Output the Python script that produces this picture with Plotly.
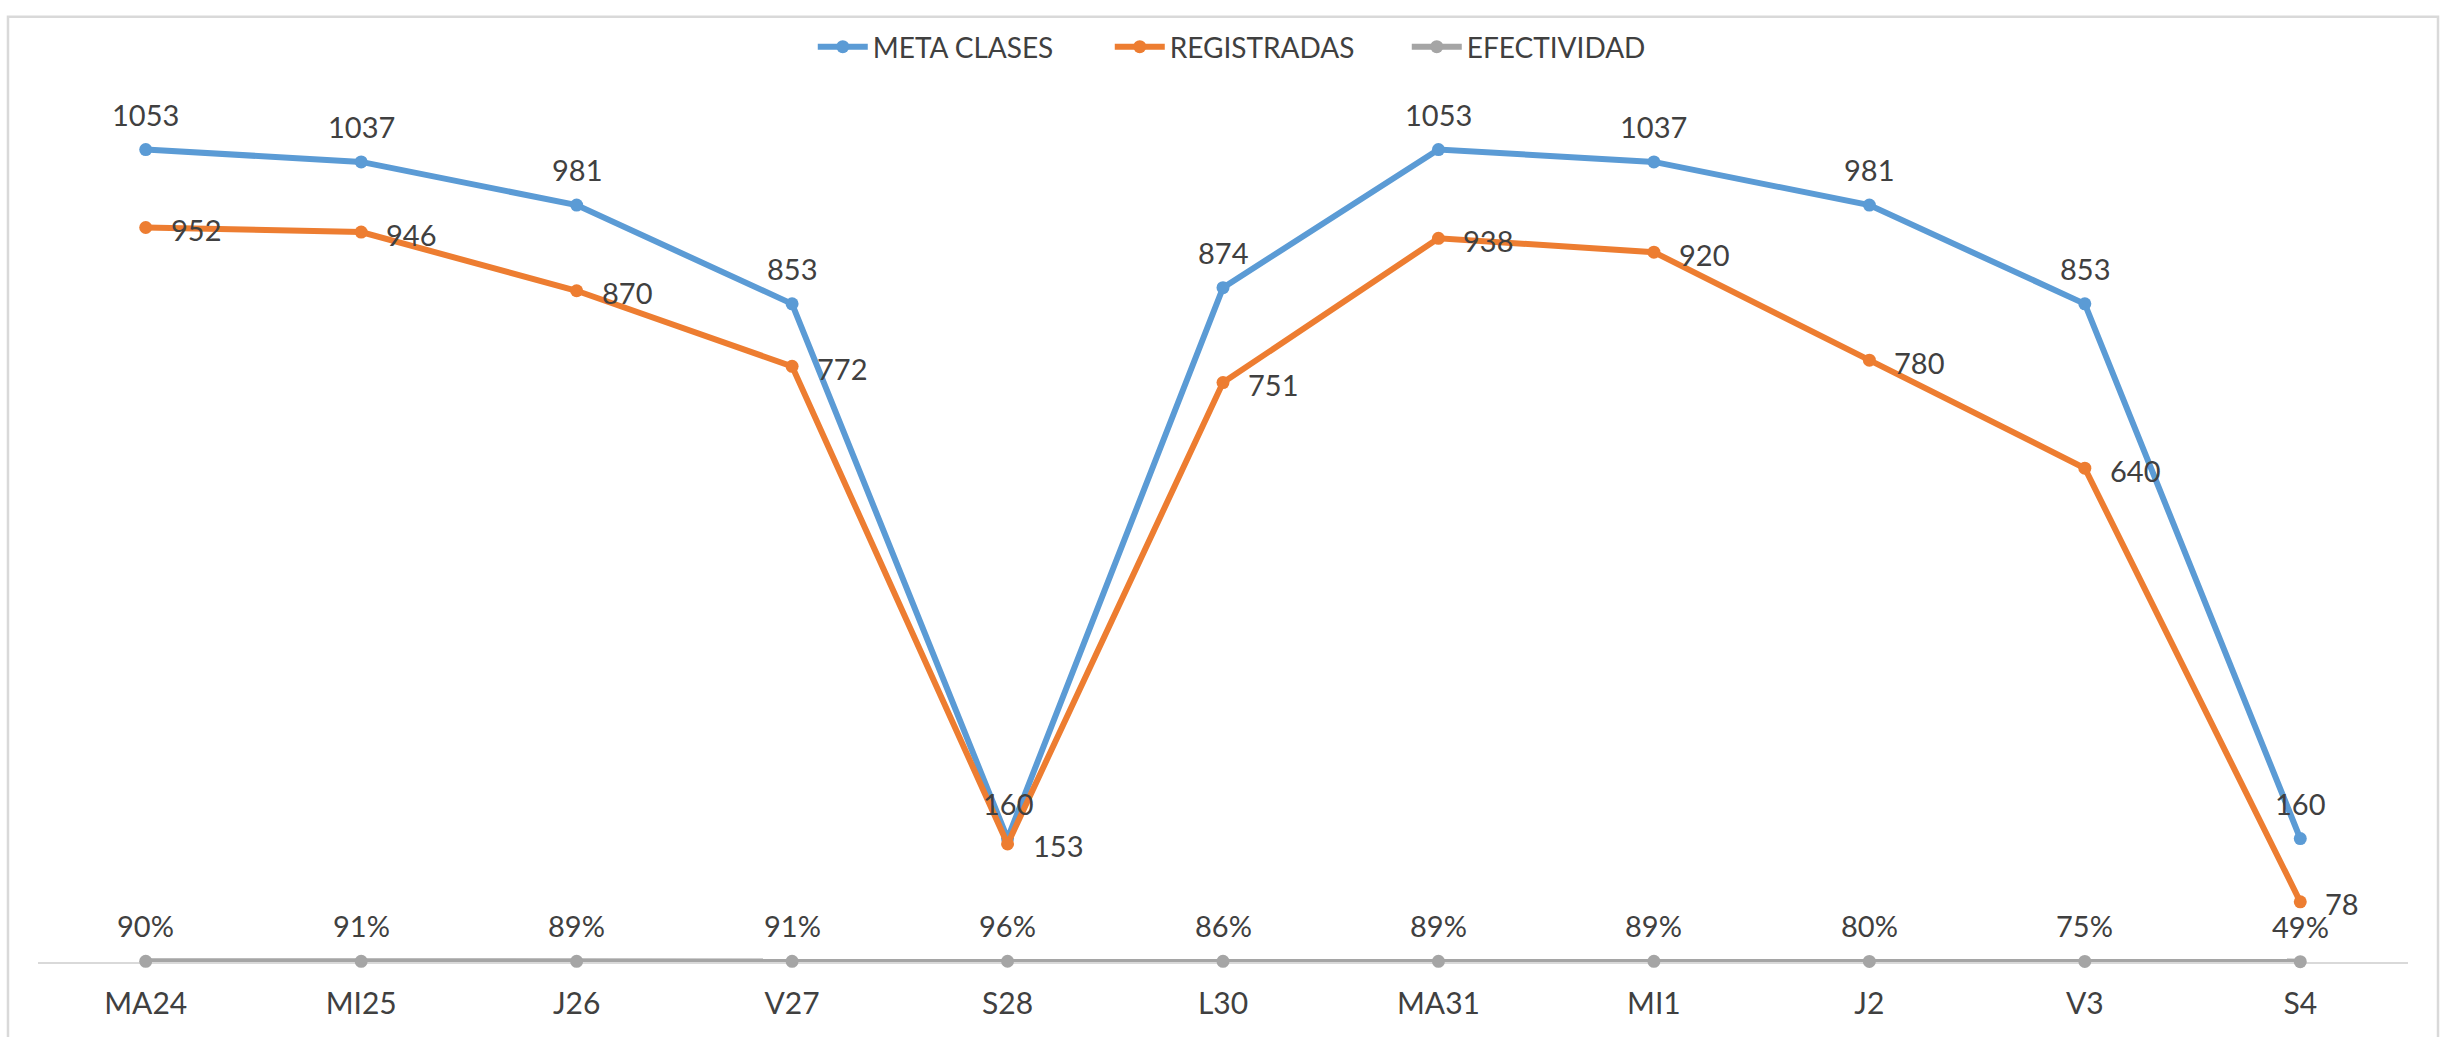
import plotly.graph_objects as go

dias = ['MA24', 'MI25', 'J26', 'V27', 'S28', 'L30', 'MA31', 'MI1', 'J2', 'V3', 'S4']
meta_clases = [1053, 1037, 981, 853, 160, 874, 1053, 1037, 981, 853, 160]
registradas = [952, 946, 870, 772, 153, 751, 938, 920, 780, 640, 78]
efectividad = [0.90, 0.91, 0.89, 0.91, 0.96, 0.86, 0.89, 0.89, 0.80, 0.75, 0.49]

FONT = 'Lato, Open Sans, sans-serif'
TXT = '#404040'
LBL = 29

series = [
    ('META CLASES', meta_clases, '#5B9BD5'),
    ('REGISTRADAS', registradas, '#ED7D31'),
    ('EFECTIVIDAD', efectividad, '#A5A5A5'),
]

fig = go.Figure()
for nombre, valores, color in series:
    fig.add_trace(go.Scatter(
        x=dias, y=valores, name=nombre,
        mode='lines+markers',
        line=dict(color=color, width=6),
        marker=dict(color=color, size=13),
        cliponaxis=False,
    ))

# etiquetas de datos
for d, v in zip(dias, meta_clases):
    fig.add_annotation(x=d, y=v, text=str(v), showarrow=False,
                       xanchor='center', yanchor='bottom', yshift=16,
                       font=dict(size=LBL, color=TXT, family=FONT))
for d, v in zip(dias, registradas):
    fig.add_annotation(x=d, y=v, text=str(v), showarrow=False,
                       xanchor='left', yanchor='middle', xshift=23, yshift=-2,
                       font=dict(size=LBL, color=TXT, family=FONT))
for d, v in zip(dias, efectividad):
    fig.add_annotation(x=d, y=v, text=f'{v:.0%}', showarrow=False,
                       xanchor='center', yanchor='bottom', yshift=16,
                       font=dict(size=LBL, color=TXT, family=FONT))

# marco exterior del grafico
fig.add_shape(type='rect', xref='paper', yref='paper',
              x0=-0.01266, x1=1.01266, y0=-0.09, y1=1.0765,
              line=dict(color='#D9D9D9', width=2.5), layer='below')

fig.update_layout(
    width=2448, height=1037,
    paper_bgcolor='white', plot_bgcolor='white',
    margin=dict(l=38, r=40, t=73, b=75),
    font=dict(family=FONT, color=TXT),
    showlegend=True,
    legend=dict(orientation='h', xref='container', yref='container',
                x=0.514, xanchor='center', y=0.9547, yanchor='middle',
                font=dict(size=28, color=TXT, family=FONT), itemwidth=50,
                entrywidth=232, entrywidthmode='pixels',
                bgcolor='rgba(0,0,0,0)'),
    xaxis=dict(range=[-0.5, 10.5], showgrid=False, showline=True,
               linecolor='#D9D9D9', linewidth=2, ticks='', layer='below traces',
               tickfont=dict(size=30, color=TXT, family=FONT),
               ticklabelstandoff=14, fixedrange=True),
    yaxis=dict(range=[0, 1138], visible=False, showgrid=False, zeroline=False),
)

fig.write_html('out.html', config={'displayModeBar': False},
               post_script="document.body.style.margin='0';")
